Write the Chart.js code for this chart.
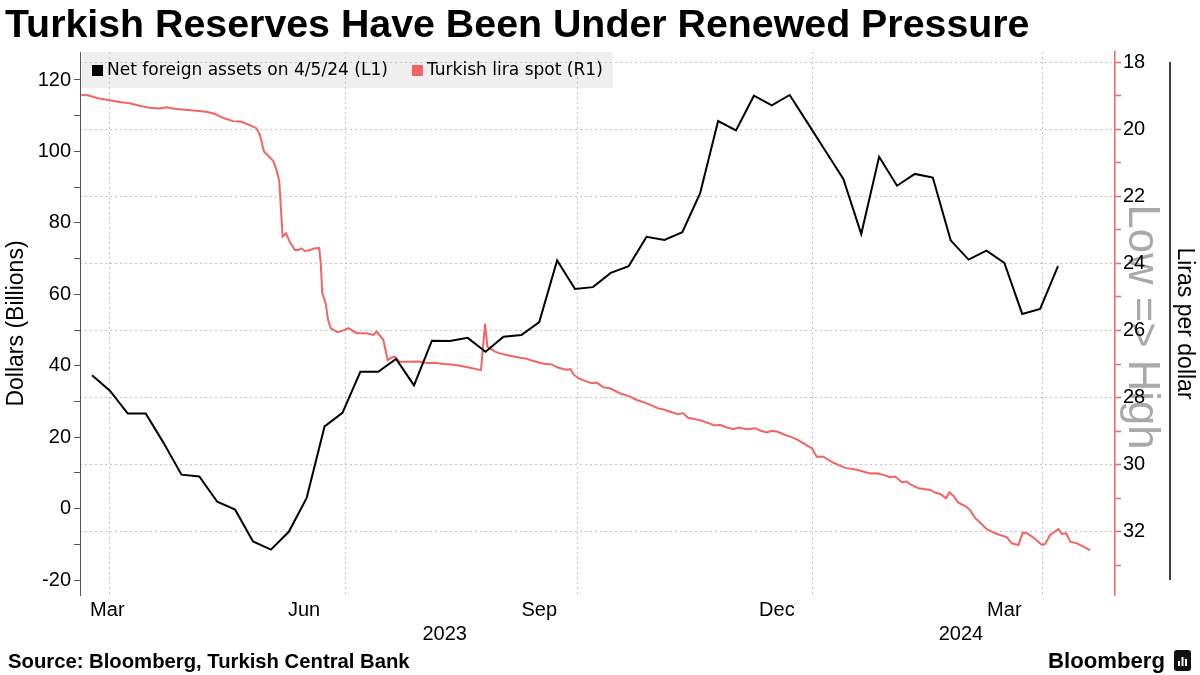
<!DOCTYPE html>
<html>
<head>
<meta charset="utf-8">
<script src="https://cdn.jsdelivr.net/npm/chart.js@4.4.1/dist/chart.umd.min.js"></script>
<style>
  html, body { margin: 0; padding: 0; background: #ffffff; }
  #wrap { width: 1200px; height: 675px; position: relative; }
</style>
</head>
<body>
<div id="wrap"><canvas id="c" width="1200" height="675"></canvas></div>
<script>
// ---------------- DATA ----------------
// x values are days counted from 2023-03-01 (day 0)
const reservesLabel = 'Net foreign assets on 4/5/24 (L1)';
const liraLabel = 'Turkish lira spot (R1)';

// Weekly net foreign assets (USD bn), first observation 2023-03-08, one per week
const reservesStartDay = 7;
const reservesStepDays = 7;
const reservesValues = [37.3, 33.0, 26.6, 26.6, 18.4, 9.5, 9.0, 1.9, -0.3, -9.2,
  -11.5, -6.5, 3.0, 23.0, 26.8, 38.3, 38.3, 41.9, 34.5, 47.0,
  46.9, 47.8, 43.9, 48.1, 48.6, 52.2, 69.5, 61.5, 62.0, 66.0,
  67.9, 76.1, 75.2, 77.4, 88.4, 108.5, 105.9, 115.6, 112.9, 115.8,
  108.0, 100.1, 92.3, 76.9, 98.5, 90.4, 93.7, 92.7, 75.1, 69.7,
  72.2, 68.8, 54.5, 55.9, 67.9];

// Turkish lira spot (lira per USD), sampled days
const liraDays = [2.8, 5.4, 9.3, 13.9, 18.4, 21.7, 25.6, 29.5, 33.5, 36.0,
  39.3, 43.2, 47.8, 51.7, 55.0, 58.2, 62.1, 65.4, 68.7, 71.3,
  72.7, 74.3, 76.0, 77.9, 79.2, 80.3, 80.8, 81.6, 82.9, 84.5,
  86.4, 87.7, 89.0, 90.3, 92.3, 94.2, 95.9, 96.5, 97.1, 98.4,
  99.4, 100.4, 103.0, 106.0, 107.3, 110.6, 114.5, 117.1, 118.4, 121.0,
  122.7, 124.3, 125.5, 127.2, 130.1, 134.7, 138.0, 141.2, 144.5, 147.7,
  151.0, 154.9, 159.2, 160.8, 161.7, 162.7, 164.7, 166.6, 170.6, 174.5,
  177.1, 179.7, 183.6, 186.9, 189.5, 192.7, 194.3, 195.3, 197.3, 199.9,
  202.5, 204.5, 207.1, 209.7, 213.6, 217.5, 220.2, 224.1, 228.6, 230.6,
  233.2, 236.4, 238.2, 240.3, 243.0, 245.6, 248.2, 250.8, 252.8, 255.4,
  258.0, 259.9, 263.2, 266.5, 268.4, 271.0, 273.0, 275.0, 277.5, 280.2,
  282.8, 285.4, 288.7, 290.6, 293.2, 297.1, 301.0, 302.3, 306.3, 311.5,
  314.1, 316.7, 319.3, 321.3, 323.9, 325.8, 327.1, 330.4, 335.0, 336.9,
  338.9, 341.2, 342.5, 344.1, 346.0, 348.7, 350.6, 352.6, 354.5, 357.1,
  360.4, 365.0, 366.9, 369.5, 371.2, 372.8, 375.4, 378.7, 380.0, 381.9,
  385.2, 386.5, 388.2, 389.8, 392.4, 397.6];
const liraValues = [18.98, 18.99, 19.08, 19.14, 19.20, 19.23, 19.30, 19.36, 19.38, 19.35,
  19.39, 19.42, 19.45, 19.48, 19.54, 19.66, 19.76, 19.78, 19.88, 19.97,
  20.17, 20.67, 20.80, 20.94, 21.22, 21.57, 22.21, 23.20, 23.10, 23.38,
  23.60, 23.60, 23.55, 23.63, 23.60, 23.55, 23.54, 24.00, 24.89, 25.19,
  25.69, 25.93, 26.05, 25.98, 25.93, 26.08, 26.08, 26.13, 26.03, 26.28,
  26.88, 26.80, 26.78, 26.93, 26.93, 26.92, 26.97, 26.96, 27.00, 27.01,
  27.05, 27.11, 27.18, 25.80, 26.48, 26.53, 26.63, 26.68, 26.75, 26.81,
  26.84, 26.91, 26.99, 27.01, 27.11, 27.17, 27.15, 27.30, 27.42, 27.50,
  27.57, 27.55, 27.69, 27.72, 27.87, 27.97, 28.07, 28.17, 28.32, 28.35,
  28.42, 28.49, 28.46, 28.60, 28.64, 28.69, 28.76, 28.83, 28.81, 28.89,
  28.94, 28.89, 28.94, 28.91, 28.98, 29.04, 28.99, 29.01, 29.09, 29.16,
  29.24, 29.36, 29.51, 29.76, 29.76, 29.94, 30.07, 30.10, 30.15, 30.26,
  30.25, 30.30, 30.37, 30.35, 30.52, 30.50, 30.58, 30.70, 30.75, 30.83,
  30.87, 31.00, 30.82, 30.93, 31.13, 31.23, 31.35, 31.59, 31.72, 31.92,
  32.04, 32.16, 32.34, 32.39, 32.02, 32.04, 32.17, 32.39, 32.36, 32.09,
  31.92, 32.06, 32.04, 32.29, 32.34, 32.54];

// Axis ticks and labels
const leftTicks = [-20, -10, 0, 10, 20, 30, 40, 50, 60, 70, 80, 90, 100, 110, 120];
const rightTicks = [18, 19, 20, 21, 22, 23, 24, 25, 26, 27, 28, 29, 30, 31, 32, 33];
const gridDays = [14, 106, 197, 289, 379];           // mid-month vertical gridlines
const monthLabels = ['Mar', 'Jun', 'Sep', 'Dec', 'Mar'];
const monthLabelDays = [13, 90, 182, 275, 364];
const yearLabels = ['2023', '2024'];
const yearLabelDays = [145, 347];

const titleText = 'Turkish Reserves Have Been Under Renewed Pressure';
const sourceText = 'Source: Bloomberg, Turkish Central Bank';
const leftAxisTitle = 'Dollars (Billions)';
const rightAxisTitle = 'Liras per dollar';
const invertNote = 'Low => High';

// ---------------- STYLE ----------------
const RED = '#f26464';
const GRID = '#c4c4c4';
const TICK_FONT = '"Liberation Sans Narrow", "Liberation Sans", Arial, sans-serif';
const X_MIN = 2.3, X_MAX = 407.3;
const Y_MIN = -24.2, Y_MAX = 127.84;
const Y2_MIN = 17.7, Y2_MAX = 33.88;

function fitSize(ctx, text, family, weight, width) {
  ctx.font = weight + ' 100px ' + family;
  return 100 * width / ctx.measureText(text).width;
}

function legendLayout(ctx) {
  const fam = '"DejaVu Sans", sans-serif';
  const size = fitSize(ctx, reservesLabel, fam, 'normal', 281);
  ctx.font = 'normal ' + size + 'px ' + fam;
  const items = [];
  let x = 92;
  [[reservesLabel, '#000000'], [liraLabel, RED]].forEach(([t, c]) => {
    const w = ctx.measureText(t).width;
    items.push({ t, c, sx: x, tx: x + 15, w });
    x = x + 15 + w + 24;
  });
  const last = items[items.length - 1];
  return { fam, size, items, left: 82, top: 52, right: last.tx + last.w + 10, bottom: 88 };
}

const decor = {
  id: 'decor',
  beforeDraw(chart) {
    const ctx = chart.ctx;
    ctx.save();
    ctx.fillStyle = '#ffffff';
    ctx.fillRect(0, 0, chart.width, chart.height);
    // legend background (behind gridlines)
    const L = legendLayout(ctx);
    ctx.fillStyle = '#efefef';
    ctx.fillRect(L.left, L.top, L.right - L.left, L.bottom - L.top);
    // "Low => High" watermark
    const fam = '"Liberation Sans", Arial, sans-serif';
    const s = fitSize(ctx, invertNote, fam, 'normal', 245);
    ctx.font = 'normal ' + s + 'px ' + fam;
    ctx.fillStyle = '#a9a9a9';
    ctx.translate(1141, 327);
    ctx.rotate(Math.PI / 2);
    ctx.textAlign = 'center';
    ctx.textBaseline = 'middle';
    ctx.fillText(invertNote, 0, 0);
    ctx.restore();
  },
  afterDraw(chart) {
    const ctx = chart.ctx;
    ctx.save();
    // title
    const tf = '"Liberation Sans", Arial, sans-serif';
    const ts = fitSize(ctx, titleText, tf, 'bold', 1025);
    ctx.font = 'bold ' + ts + 'px ' + tf;
    ctx.fillStyle = '#000';
    ctx.textAlign = 'left';
    ctx.textBaseline = 'alphabetic';
    ctx.fillText(titleText, 5, 37);
    // legend items
    const L = legendLayout(ctx);
    ctx.font = 'normal ' + L.size + 'px ' + L.fam;
    ctx.textBaseline = 'middle';
    L.items.forEach(it => {
      ctx.fillStyle = it.c;
      ctx.fillRect(it.sx, 65, 11, 11);
      ctx.fillStyle = '#000';
      ctx.fillText(it.t, it.tx, 71);
    });
    // source
    const ss = fitSize(ctx, sourceText, tf, 'bold', 402);
    ctx.font = 'bold ' + ss + 'px ' + tf;
    ctx.textBaseline = 'alphabetic';
    ctx.fillText(sourceText, 8, 668);
    // Bloomberg wordmark
    const bs = fitSize(ctx, 'Bloomberg', tf, 'bold', 117);
    ctx.font = 'bold ' + bs + 'px ' + tf;
    ctx.fillText('Bloomberg', 1048, 668);
    ctx.fillStyle = '#111';
    ctx.beginPath();
    if (ctx.roundRect) ctx.roundRect(1174, 650, 17, 21, 3); else ctx.rect(1174, 650, 17, 21);
    ctx.fill();
    ctx.fillStyle = '#fff';
    ctx.fillRect(1178, 661, 2, 5);
    ctx.fillRect(1181.5, 657, 2, 9);
    ctx.fillRect(1185, 659, 2, 7);
    // separator line beside right axis title
    ctx.strokeStyle = '#000';
    ctx.lineWidth = 1.5;
    ctx.beginPath();
    ctx.moveTo(1170, 62);
    ctx.lineTo(1170, 580);
    ctx.stroke();
    ctx.restore();
  }
};

const ctx = document.getElementById('c').getContext('2d');
new Chart(ctx, {
  type: 'line',
  data: {
    datasets: [
      {
        label: reservesLabel,
        data: reservesValues.map((v, i) => ({ x: reservesStartDay + i * reservesStepDays, y: v })),
        borderColor: '#000000',
        borderWidth: 2,
        pointRadius: 0,
        tension: 0,
        xAxisID: 'x',
        yAxisID: 'y'
      },
      {
        label: liraLabel,
        data: liraDays.map((d, i) => ({ x: d, y: liraValues[i] })),
        borderColor: RED,
        borderWidth: 2,
        pointRadius: 0,
        tension: 0,
        xAxisID: 'x',
        yAxisID: 'y2'
      }
    ]
  },
  options: {
    responsive: false,
    animation: false,
    events: [],
    layout: { padding: { top: 52, left: 0, right: 0, bottom: 24 } },
    plugins: {
      legend: { display: false },
      title: { display: false },
      tooltip: { enabled: false }
    },
    scales: {
      x: {
        type: 'linear', position: 'bottom', weight: 0,
        min: X_MIN, max: X_MAX,
        afterBuildTicks: a => { a.ticks = gridDays.map(v => ({ value: v })); },
        ticks: { display: false },
        grid: { color: GRID, lineWidth: 1, drawTicks: false },
        border: { display: false, dash: [2, 3] },
        afterFit: a => { a.height = 0; }
      },
      xm: {
        type: 'linear', position: 'bottom', weight: 1,
        min: X_MIN, max: X_MAX,
        afterBuildTicks: a => { a.ticks = monthLabelDays.map(v => ({ value: v })); },
        ticks: {
          autoSkip: false, maxRotation: 0, padding: 3, color: '#000',
          font: { family: TICK_FONT, size: 20 },
          callback: (v, i) => monthLabels[i]
        },
        grid: { display: false, drawTicks: false },
        border: { display: false },
        afterFit: a => { a.height = 27; }
      },
      xy: {
        type: 'linear', position: 'bottom', weight: 2,
        min: X_MIN, max: X_MAX,
        afterBuildTicks: a => { a.ticks = yearLabelDays.map(v => ({ value: v })); },
        ticks: {
          autoSkip: false, maxRotation: 0, padding: 0, color: '#000',
          font: { family: TICK_FONT, size: 20 },
          callback: (v, i) => yearLabels[i]
        },
        grid: { display: false, drawTicks: false },
        border: { display: false },
        afterFit: a => { a.height = 29; }
      },
      y: {
        type: 'linear', position: 'left',
        min: Y_MIN, max: Y_MAX,
        afterBuildTicks: a => { a.ticks = leftTicks.map(v => ({ value: v })); },
        ticks: {
          padding: 3, color: '#000',
          font: { family: TICK_FONT, size: 20 },
          callback: v => (v % 20 === 0 ? String(v) : '')
        },
        grid: { drawOnChartArea: false, drawTicks: true, tickLength: 6, color: '#000', tickColor: '#555' },
        border: { display: true, color: '#555', width: 1 },
        title: {
          display: true, text: leftAxisTitle, color: '#000',
          font: { family: '"Liberation Sans", Arial, sans-serif', size: 23 },
          padding: { top: 3, bottom: 0 }
        },
        afterFit: a => { a.width = 80; }
      },
      y2: {
        type: 'linear', position: 'right', reverse: true,
        min: Y2_MIN, max: Y2_MAX,
        afterBuildTicks: a => { a.ticks = rightTicks.map(v => ({ value: v })); },
        ticks: {
          padding: 2, color: '#000',
          font: { family: TICK_FONT, size: 20 },
          callback: v => (v % 2 === 0 ? String(v) : '')
        },
        grid: {
          drawOnChartArea: true, drawTicks: true, tickLength: 6,
          color: c => (c.tick && c.tick.value % 2 === 0 ? GRID : 'rgba(0,0,0,0)'),
          tickColor: RED, tickWidth: 1.5
        },
        border: { display: true, color: RED, width: 1.5, dash: [2, 3] },
        title: {
          display: true, text: rightAxisTitle, color: '#000',
          font: { family: '"Liberation Sans", Arial, sans-serif', size: 23 },
          padding: { top: 2, bottom: 0 }
        },
        afterFit: a => { a.width = 85; }
      }
    }
  },
  plugins: [decor]
});
</script>
</body>
</html>
